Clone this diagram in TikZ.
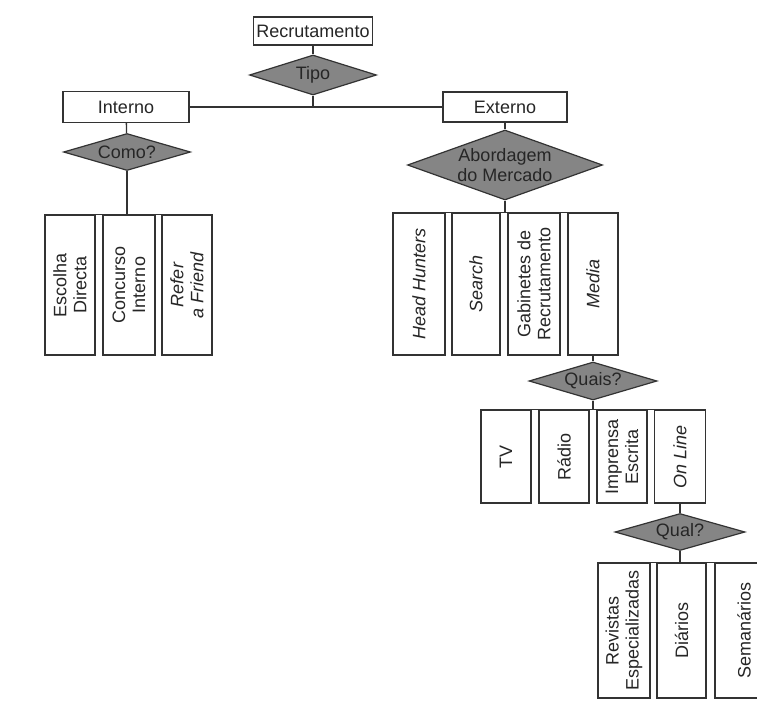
\documentclass[tikz,border=0pt]{standalone}
\usepackage{fontspec}
\setmainfont{Liberation Sans}
\usetikzlibrary{shapes.geometric}
\begin{document}
\begin{tikzpicture}[x=1pt,y=-1pt,
 every node/.style={font=\fontsize{18}{20}\selectfont, text=black!85},
 hbox/.style={draw=black!80, line width=1.3pt, fill=white, inner sep=0pt},
 vbox/.style={draw=black!80, line width=1.3pt, fill=white, rotate=90, inner sep=0pt, align=center, minimum height=50pt},
 dia/.style={diamond, draw=black!80, line width=1.2pt, fill=black!48, inner sep=0pt, align=center, aspect=3},
 conn/.style={draw=black!80, line width=1.3pt}]
\fill[white] (0,0) rectangle (757,704);
\useasboundingbox (0,0) rectangle (757,704);
% top
\node[hbox, minimum width=119pt, minimum height=28pt] (rec) at (313,31) {Recrutamento};
\node[dia, minimum width=127pt, minimum height=40pt] (tipo) at (313,75) {Tipo};
\node[hbox, minimum width=126pt, minimum height=31pt] (int) at (126,107) {Interno};
\node[hbox, minimum width=124pt, minimum height=30pt] (ext) at (505,107) {Externo};
% interno branch
\node[dia, minimum width=127pt, minimum height=37pt] (como) at (127,152) {Como?};
\node[vbox, minimum width=140pt, minimum height=50pt] (ed) at (70,285) {Escolha\\Directa};
\node[vbox, minimum width=140pt, minimum height=52pt] (ci) at (129,285) {Concurso\\Interno};
\node[vbox, minimum width=140pt, minimum height=50pt] (rf) at (187,285) {\itshape Refer\\\itshape a Friend};
% externo branch
\node[dia, aspect=2.8, minimum width=195pt, minimum height=70pt] (abord) at (505,165) {Abordagem\\do Mercado};
\node[vbox, minimum width=142pt, minimum height=52pt] (hh) at (419,284) {\itshape Head Hunters};
\node[vbox, minimum width=142pt, minimum height=48pt] (se) at (476,284) {\itshape Search};
\node[vbox, minimum width=142pt, minimum height=52pt] (gr) at (534,284) {Gabinetes de\\Recrutamento};
\node[vbox, minimum width=142pt, minimum height=50pt] (me) at (593,284) {\itshape Media};
% media branch
\node[dia, minimum width=128pt, minimum height=38pt] (quais) at (593,381) {Quais?};
\node[vbox, minimum width=93pt, minimum height=50pt] (tv) at (506,456.5) {TV};
\node[vbox, minimum width=93pt, minimum height=50pt] (ra) at (564,456.5) {Rádio};
\node[vbox, minimum width=93pt, minimum height=50pt] (ie) at (622,456.5) {Imprensa\\Escrita};
\node[vbox, minimum width=93pt, minimum height=51pt] (ol) at (680,456.5) {\itshape On Line};
% on line branch
\node[dia, minimum width=130pt, minimum height=37pt] (qual) at (680,532) {Qual?};
\node[vbox, minimum width=135pt, minimum height=52pt] (re) at (624,630.5) {Revistas\\Especializadas};
\node[vbox, minimum width=135pt, minimum height=49pt] (di) at (681.5,630.5) {Diários};
\node[vbox, minimum width=135pt, minimum height=58pt] (sm) at (744,630.5) {Semanários};
% connectors
\draw[conn] (rec) -- (tipo);
\draw[conn] (int) -- (ext);
\draw[conn] (tipo.south) -- (tipo.south |- int.east);
\draw[conn] (int) -- (como);
\draw[conn] (como.south) -- (como.south |- ed.east);
\draw[conn] (ed.north east) -- (rf.south east);
\draw[conn] (ext) -- (abord);
\draw[conn] (abord.south) -- (abord.south |- hh.east);
\draw[conn] (hh.north east) -- (me.south east);
\draw[conn] (me.west) -- (quais.north);
\draw[conn] (quais.south) -- (quais.south |- tv.east);
\draw[conn] (tv.north east) -- (ol.south east);
\draw[conn] (ol.west) -- (qual.north);
\draw[conn] (qual.south) -- (qual.south |- re.east);
\draw[conn] (re.north east) -- (sm.south east);
\end{tikzpicture}
\end{document}
